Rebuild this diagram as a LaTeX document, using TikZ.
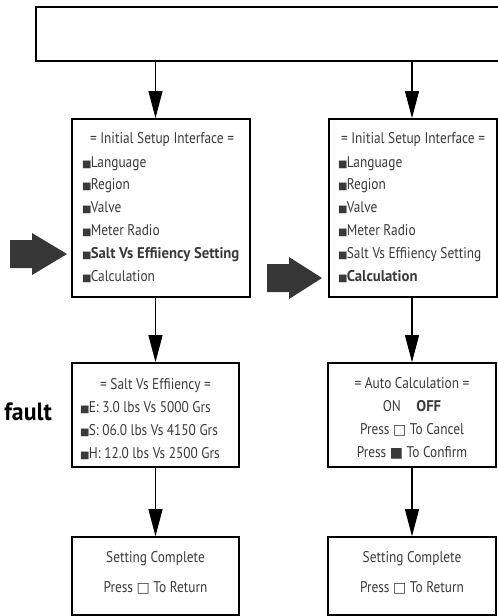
\documentclass[tikz,border=0pt]{standalone}
\usepackage{fontspec}
\usepackage{xcolor}
\usepackage{tikz}
\usetikzlibrary{arrows.meta, calc}
\newfontfamily\menufont[FakeStretch=0.86, BoldFeatures={FakeStretch=0.95}]{PT Sans}
\newfontfamily\symfont{DejaVu Sans}
\definecolor{ink}{HTML}{3A3A3A}
\definecolor{pointer}{HTML}{363636}
\newcommand{\blt}{{\symfont\fontsize{10}{10}\selectfont ■}\kern-0.8pt}
\newcommand{\keyoff}{{\symfont\fontsize{14}{14}\selectfont □}}
\newcommand{\keyon}{{\symfont\fontsize{14}{14}\selectfont ■}}

\begin{document}
\begin{tikzpicture}[x=1pt,y=-1pt]
      \tikzset{screen/.style={draw=black,line width=1.6pt,inner sep=0pt},
        mainscreen/.style={screen,line width=1.9pt},
        menuline/.style={inner sep=0pt,anchor=base west,text=ink,font=\menufont\fontsize{15.5}{17}\selectfont},
        menutitle/.style={menuline,anchor=base},
        flow/.style={line width=1.1pt,-{Triangle[width=14pt,length=27pt]}}}
      \path[use as bounding box,clip] (0,0) rectangle (498,616);
      % boxes
      \node[screen,line width=1.2pt,minimum width=500pt,minimum height=54pt] (top) at (286,34) {};
      \node[mainscreen,minimum width=178pt,minimum height=178pt] (init1) at (161,208) {};
      \node[mainscreen,minimum width=168pt,minimum height=178pt] (init2) at (413,208) {};
      \node[screen,minimum width=167pt,minimum height=104pt] (salt) at (155.5,415) {};
      \node[screen,minimum width=168pt,minimum height=104pt] (auto) at (412,415) {};
      \node[screen,minimum width=167pt,minimum height=78pt] (done1) at (155.5,576) {};
      \node[screen,minimum width=168pt,minimum height=78pt] (done2) at (412,576) {};
      % left menu
      \node[menutitle] (t1) at (162,143) {= Initial Setup Interface =};
      \node[menuline] (l1a) at (82,167) {\blt Language};
      \node[menuline] (l1b) at (82,189) {\blt Region};
      \node[menuline] (l1c) at (82,212) {\blt Valve};
      \node[menuline] (l1d) at (82,235) {\blt Meter Radio};
      \node[menuline] (l1e) at (82,258) {\blt\textbf{Salt Vs Effiiency Setting}};
      \node[menuline] (l1f) at (82,281) {\blt Calculation};
      % right menu
      \node[menutitle] (t2) at (413,143) {= Initial Setup Interface =};
      \node[menuline] (l2a) at (338,167) {\blt Language};
      \node[menuline] (l2b) at (338,189) {\blt Region};
      \node[menuline] (l2c) at (338,212) {\blt Valve};
      \node[menuline] (l2d) at (338,235) {\blt Meter Radio};
      \node[menuline] (l2e) at (338,258) {\blt Salt Vs Effiiency Setting};
      \node[menuline] (l2f) at (338,281) {\blt\textbf{Calculation}};
      % salt screen
      \node[menutitle] (t3) at (155.5,389) {= Salt Vs Effiiency =};
      \node[menuline] (s1) at (80,412) {\blt E: 3.0 lbs Vs 5000 Grs};
      \node[menuline] (s2) at (80,435) {\blt S: 06.0 lbs Vs 4150 Grs};
      \node[menuline] (s3) at (80,458) {\blt H: 12.0 lbs Vs 2500 Grs};
      % auto calculation screen
      \node[menutitle] (t4) at (412,388) {= Auto Calculation =};
      \node[menutitle] (a1) at (412,411) {ON\quad\textbf{OFF}};
      \node[menutitle] (a2) at (412,434) {Press \keyoff\ To Cancel};
      \node[menutitle] (a3) at (412,457) {Press \keyon\ To Confirm};
      % done screens
      \node[menutitle] (d1) at (155.5,562) {Setting Complete};
      \node[menutitle] (d2) at (155.5,592) {Press \keyoff\ To Return};
      \node[menutitle] (d3) at (412,562) {Setting Complete};
      \node[menutitle] (d4) at (412,592) {Press \keyoff\ To Return};
      \node[inner sep=0pt,anchor=base east,font=\menufont\bfseries\fontsize{25}{27}\selectfont] (dflt) at (52,420) {fault};
      % pointers
      \fill[pointer] (10,240) -- (32,240) -- (32,233) -- (67,254) -- (32,275) -- (32,268) -- (10,268) -- cycle;
      \fill[pointer] (267,264) -- (289,264) -- (289,257) -- (322,278) -- (289,299) -- (289,292) -- (267,292) -- cycle;
      % connectors
      \draw[flow] (top.south -| salt.north) -- (init1.north -| salt.north);
      \draw[flow] (top.south -| auto.north) -- (init2.north -| auto.north);
      \draw[flow] (init1.south -| salt.north) -- (salt.north);
      \draw[flow] (init2.south -| auto.north) -- (auto.north);
      \draw[flow] (salt.south) -- (done1.north);
      \draw[flow] (auto.south) -- (done2.north);
    \end{tikzpicture}
\end{document}
